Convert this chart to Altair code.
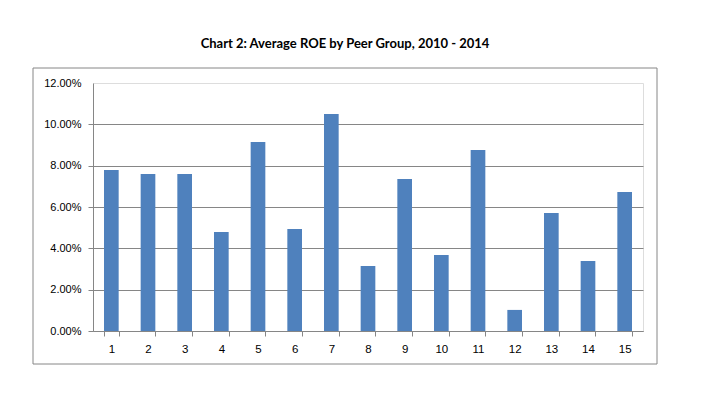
import altair as alt
import pandas as pd

peer_groups = [str(i) for i in range(1, 16)]
avg_roe = [0.0779, 0.0760, 0.0760, 0.0479, 0.0914, 0.0493, 0.1050, 0.0314,
           0.0735, 0.0368, 0.0876, 0.0102, 0.0571, 0.0339, 0.0672]
y_ticks = [0.0, 0.02, 0.04, 0.06, 0.08, 0.10, 0.12]
title_text = "Chart 2: Average ROE by Peer Group, 2010 - 2014"

df = pd.DataFrame({"group": peer_groups, "roe": avg_roe})

GRAY = "#868686"
W, H = 550, 248

bars = alt.Chart(df).mark_bar(color="#4F81BD").encode(
    x=alt.X("group:N", sort=peer_groups,
            scale=alt.Scale(paddingInner=0.6, paddingOuter=0.3),
            axis=alt.Axis(title=None, labelAngle=0, tickBand="extent",
                          domainColor=GRAY, tickColor=GRAY, tickSize=5,
                          labelFont="Liberation Sans", labelFontSize=11.5,
                          labelColor="#000000", labelPadding=7, grid=False)),
    y=alt.Y("roe:Q", scale=alt.Scale(domain=[0, 0.12], nice=False),
            axis=alt.Axis(title=None, values=y_ticks, format=".2%",
                          domainColor=GRAY, tickColor=GRAY, tickSize=5,
                          gridColor=GRAY, gridWidth=1,
                          gridOpacity={"expr": "datum.value > 0.115 ? 0 : 1"},
                          tickOpacity={"expr": "datum.value > 0.115 ? 0 : 1"},
                          labelFont="Liberation Sans", labelFontSize=11,
                          labelColor="#000000", labelPadding=7)),
)

one = alt.Data(values=[{"a": 1}])

box = alt.Chart(one).mark_rect(fill=None, stroke=GRAY, strokeWidth=1, clip=False).encode(
    x=alt.value(-60), x2=alt.value(W + 14), y=alt.value(-15), y2=alt.value(H + 33)
)

title = alt.Chart(one).mark_text(
    text=title_text, font="Lato", fontSize=13, fontWeight="bold",
    color="#000000", align="center", baseline="middle", clip=False
).encode(x=alt.value(252), y=alt.value(-39))

chart = alt.layer(box, bars, title).properties(
    width=W, height=H,
    autosize=alt.AutoSizeParams(type="none"),
    padding={"left": 85, "top": 75, "right": 55, "bottom": 74},
).configure_view(stroke=None).configure(background="#FFFFFF")

chart.save("out.html", embed_options={"renderer": "svg", "actions": False})
